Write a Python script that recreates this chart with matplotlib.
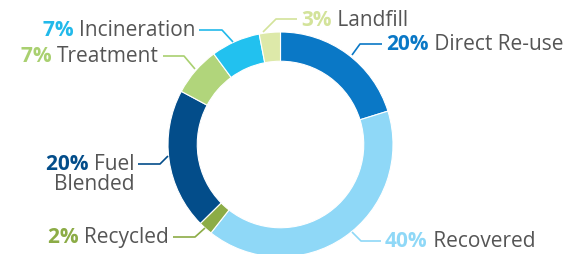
import matplotlib.pyplot as plt

plt.rcParams['font.family'] = ['Open Sans', 'DejaVu Sans']

# slices, clockwise from 12 o'clock
labels = ['Direct Re-use', 'Recovered', 'Recycled', 'Fuel\nBlended', 'Treatment', 'Incineration', 'Landfill']
values = [20, 40, 2, 20, 7, 7, 3]
colors = ['#0a78c6', '#8fd8f7', '#8cac46', '#034d8a', '#b1d57b', '#22c1ef', '#dde9a9']
pct_colors = ['#0a78c6', '#8fd8f7', '#8cac46', '#034d8a', '#a9d070', '#22b9ea', '#d3e39a']
grey = '#555555'

W, H = 583, 255
fig = plt.figure(figsize=(W / 100, H / 100), dpi=100)
ax = fig.add_axes([0, 0, 1, 1])

cx, cy, r = 280.5, H - 145.5, 112.5
ax.pie(values, colors=colors, startangle=90, counterclock=False,
       center=(cx, cy), radius=r, frame=True,
       wedgeprops=dict(width=r * 0.26, edgecolor='white', linewidth=0.8))
ax.set_xlim(0, W)
ax.set_ylim(0, H)
ax.axis('off')

# layout: (ring point, elbow, line end, text side) in pixels from top-left
layout = [
    ((352, 56), (360, 45), (382, 45), 'left'),
    ((352, 233), (361, 242), (381, 242), 'left'),
    ((205, 229), (195, 238), (173, 238), 'right'),
    ((168, 157), (160, 165), (138, 165), 'right'),
    ((195, 70), (184, 57), (163, 57), 'right'),
    ((233, 43), (222, 31), (199, 31), 'right'),
    ((263, 33), (276, 20), (297, 20), 'left'),
]

fs = 15
for lab, v, pc, (p0, p1, p2, side) in zip(labels, values, pct_colors, layout):
    xs = [p0[0], p1[0], p2[0]]
    ys = [H - p0[1], H - p1[1], H - p2[1]]
    ax.plot(xs, ys, color=pc, lw=1.2, solid_capstyle='butt')
    pct = f'{v}%'
    first = lab.split('\n')[0]
    rest = lab.split('\n')[1:]
    ty = H - p2[1]
    if side == 'left':
        t = ax.text(p2[0] + 4, ty, pct, color=pc, fontsize=fs, fontweight='bold',
                    ha='left', va='center')
        ax.annotate(' ' + first, xy=(1, 0), xycoords=t, ha='left', va='bottom',
                    color=grey, fontsize=fs)
    else:
        t = ax.text(p2[0] - 4, ty, first, color=grey, fontsize=fs,
                    ha='right', va='center')
        ax.annotate(pct + ' ', xy=(0, 0), xycoords=t, ha='right', va='bottom',
                    color=pc, fontsize=fs, fontweight='bold')
        for i, line in enumerate(rest):
            ax.text(p2[0] - 4, ty - 20 * (i + 1), line, color=grey, fontsize=fs,
                    ha='right', va='center')

fig.savefig('out.png', dpi=100)
